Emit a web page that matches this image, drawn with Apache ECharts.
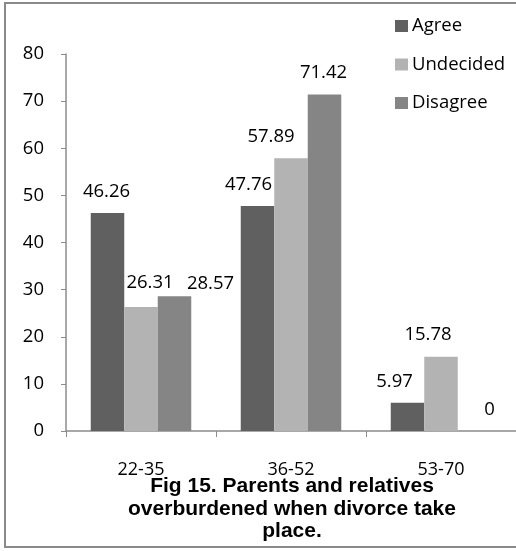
<!DOCTYPE html>
<html>
<head>
<meta charset="utf-8">
<script src="https://cdn.jsdelivr.net/npm/echarts@6/dist/echarts.min.js"></script>
<style>
    html, body {margin: 0; padding: 0; background: #fff;}
    #chart {width: 516px; height: 551px;}
</style>
</head>
<body>
<div id="chart"></div>
<script>
const age_groups = ['22-35', '36-52', '53-70'];
const agree = [46.26, 47.76, 5.97];
const undecided = [26.31, 57.89, 15.78];
const disagree = [28.57, 71.42, 0];
const y_ticks = [0, 10, 20, 30, 40, 50, 60, 70, 80];

// label nudges, like excel moved them to avoid overlap
const shift_agree = [[-1, 0], [-9, 0], [-13, 0]];
const shift_undecided = [[9, -3], [-20, 0], [-13, 0]];
const shift_disagree = [[36, 9], [-1, 0], [15, 0]];

const label_font = {fontFamily: 'Open Sans', fontSize: 18.5, color: '#000'};

function gen_bar_series(name, values, color, shifts) {
    return {
        name: name,
        type: 'bar',
        barGap: '0%',
        barCategoryGap: '33%',
        itemStyle: {color: color},
        label: Object.assign({show: true, position: 'top', distance: 12}, label_font),
        data: values.map((v, i) => ({value: v, label: {offset: shifts[i]}}))
    };
}

let chart = echarts.init(document.getElementById('chart'));

let option = {
    animation: false,
    grid: {left: 66, top: 54, bottom: 120, width: 453},
    legend: {
        orient: 'vertical',
        left: 395,
        top: 16,
        padding: 0,
        icon: 'rect',
        itemWidth: 13,
        itemHeight: 12,
        itemGap: 18.5,
        textStyle: {fontFamily: 'Open Sans', fontSize: 18.5, color: '#000', lineHeight: 20, padding: [0, 0, 0, -1]},
        data: ['Agree', 'Undecided', 'Disagree']
    },
    xAxis: {
        type: 'category',
        data: age_groups,
        axisLine: {lineStyle: {color: '#8c8c8c', width: 1.5}},
        axisTick: {show: true, length: 6, lineStyle: {color: '#8c8c8c'}},
        axisLabel: {margin: 30, fontFamily: 'Open Sans', fontSize: 18, color: '#000'}
    },
    yAxis: {
        type: 'value',
        min: y_ticks[0],
        max: y_ticks[y_ticks.length - 1],
        interval: 10,
        splitLine: {show: false},
        axisLine: {show: true, lineStyle: {color: '#8c8c8c', width: 1.5}},
        axisTick: {show: true, length: 5, lineStyle: {color: '#8c8c8c'}},
        axisLabel: Object.assign({margin: 22}, label_font)
    },
    graphic: [
        {
            type: 'rect',
            shape: {x: 5, y: 3, width: 530, height: 544},
            style: {fill: 'none', stroke: '#8a8a8a', lineWidth: 2},
            silent: true
        },
        {
            type: 'text',
            x: 292,
            y: 475,
            style: {
                text: 'Fig 15. Parents and relatives\noverburdened when divorce take\nplace.',
                fontFamily: 'Liberation Sans',
                fontWeight: 'bold',
                fontSize: 21,
                lineHeight: 22.5,
                align: 'center',
                fill: '#000'
            }
        }
    ],
    series: [
        gen_bar_series('Agree', agree, '#606060', shift_agree),
        gen_bar_series('Undecided', undecided, '#b3b3b3', shift_undecided),
        gen_bar_series('Disagree', disagree, '#858585', shift_disagree)
    ]
};

chart.setOption(option);
</script>
</body>
</html>
